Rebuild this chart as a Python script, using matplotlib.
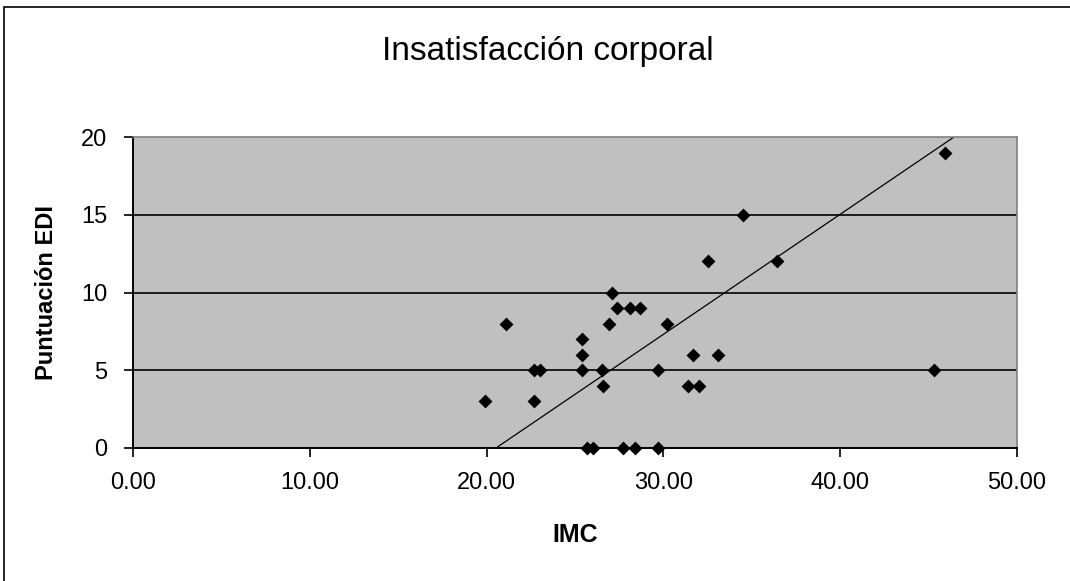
import numpy as np
import matplotlib
matplotlib.use("Agg")
import matplotlib.pyplot as plt
from matplotlib.patches import Rectangle

# data (IMC vs Puntuacion EDI)
imc = [19.9, 21.1, 22.7, 23.0, 22.7, 34.5, 32.5, 36.4, 27.1, 27.4, 28.1, 28.7,
       26.9, 30.2, 25.4, 25.4, 31.7, 33.1, 25.4, 26.5, 29.7, 26.6, 31.4, 32.0,
       25.7, 26.0, 27.7, 28.4, 29.7, 45.9, 45.3]
edi = [3, 8, 5, 5, 3, 15, 12, 12, 10, 9, 9, 9,
       8, 8, 7, 6, 6, 6, 5, 5, 5, 4, 4, 4,
       0, 0, 0, 0, 0, 19, 5]

# trend line as drawn in the reference (slope, intercept)
trend_slope = 0.772
trend_intercept = -15.85

x_ticks = [0, 10, 20, 30, 40, 50]
y_ticks = [0, 5, 10, 15, 20]

plt.rcParams['font.family'] = ['Liberation Sans', 'DejaVu Sans']

W, H = 1070, 581
fig = plt.figure(figsize=(W / 100, H / 100), dpi=100)
fig.patch.set_facecolor('white')

# outer chart border
fig.patches.append(Rectangle((3.5 / W, -0.01), 1.02, 1 - 7.5 / H + 0.01,
                             transform=fig.transFigure, fill=False,
                             edgecolor='black', linewidth=1.2))

ax = fig.add_axes([133 / W, 1 - 448 / H, 884 / W, 311 / H])
ax.set_facecolor('#c0c0c0')
ax.set_xlim(0, 50)
ax.set_ylim(0, 20)

for yv in y_ticks[1:-1]:
    ax.axhline(yv, color='black', linewidth=1.2, zorder=1)

ax.scatter(imc, edi, marker='D', s=50, color='black', zorder=4, linewidths=0,
           clip_on=False)

# linear trend line, clipped to the 0..20 range of the y axis
tx = np.array([-trend_intercept / trend_slope, (20 - trend_intercept) / trend_slope])
ax.plot(tx, trend_slope * tx + trend_intercept, color='black', linewidth=0.9,
        zorder=2)

ax.set_xticks(x_ticks)
ax.set_xticklabels(['%.2f' % v for v in x_ticks])
ax.set_yticks(y_ticks)
ax.tick_params(direction='out', length=6.5, width=1.2, labelsize=17)
ax.tick_params(axis='y', pad=12)
ax.tick_params(axis='x', pad=11)

for side in ['top', 'right']:
    ax.spines[side].set_color('#808080')
    ax.spines[side].set_linewidth(1.2)
for side in ['left', 'bottom']:
    ax.spines[side].set_color('black')
    ax.spines[side].set_linewidth(1.4)

fig.text(575 / W, 1 - 535 / H, 'IMC', fontsize=18, fontweight='bold',
         ha='center', va='center')
fig.text(47 / W, 1 - 292 / H, 'Puntuación EDI', fontsize=17,
         fontweight='bold', rotation=90, ha='center', va='center')
fig.text(548 / W, 1 - 60 / H, 'Insatisfacción corporal', fontsize=24,
         ha='center', va='baseline')

fig.savefig('out.png', dpi=100)
